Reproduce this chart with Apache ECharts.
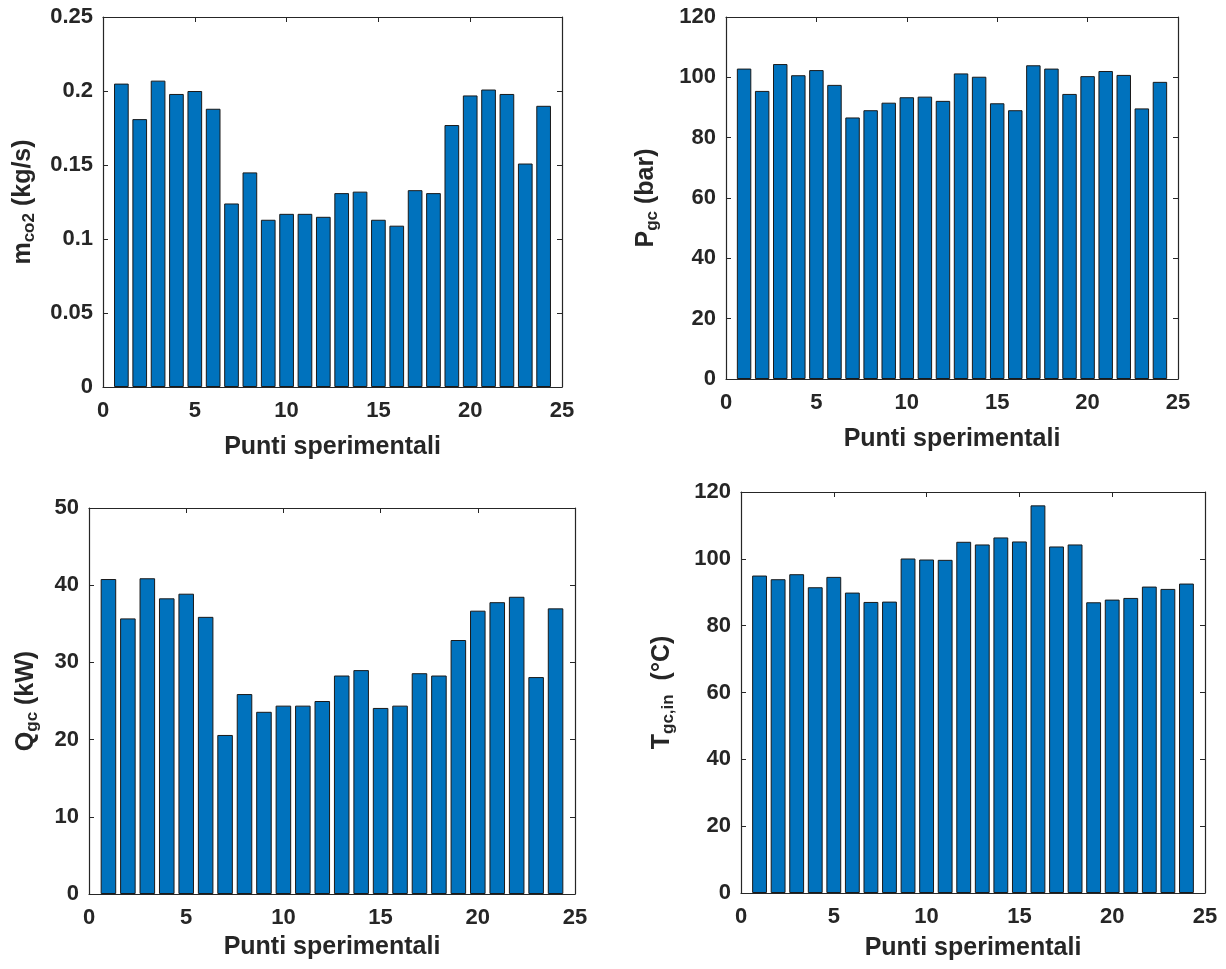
<!DOCTYPE html>
<html><head><meta charset="utf-8">
<script src="https://cdn.jsdelivr.net/npm/echarts@6/dist/echarts.min.js"></script>
<style>html,body{margin:0;padding:0;background:#fff}#c{width:1226px;height:969px}</style>
</head><body><div id="c"></div>
<script>
// Experimental points 1..24
const points = [1,2,3,4,5,6,7,8,9,10,11,12,13,14,15,16,17,18,19,20,21,22,23,24];
// m_co2 (kg/s)
const mco2 = [0.205,0.181,0.207,0.198,0.200,0.188,0.124,0.145,0.113,0.117,0.117,0.115,0.131,0.132,0.113,0.109,0.133,0.131,0.177,0.197,0.201,0.198,0.151,0.190];
// P_gc (bar)
const pgc = [102.9,95.5,104.4,100.7,102.4,97.5,86.7,89.1,91.6,93.4,93.6,92.2,101.3,100.2,91.4,89.1,104.0,102.9,94.5,100.4,102.1,100.8,89.7,98.5];
// Q_gc (kW)
const qgc = [40.8,35.7,40.9,38.3,38.9,35.9,20.6,25.9,23.6,24.4,24.4,25.0,28.3,29.0,24.1,24.4,28.6,28.3,32.9,36.7,37.8,38.5,28.1,37.0];
// T_gc,in (°C)
const tgc = [95.0,93.9,95.4,91.5,94.6,89.9,87.1,87.2,100.1,99.8,99.7,105.1,104.3,106.4,105.2,116.0,103.7,104.3,87.0,87.8,88.3,91.7,91.0,92.6];

const xTitle = 'Punti sperimentali';

const FONT = '"Liberation Sans", Arial, Helvetica, sans-serif';
const TXT = '#262626';
const BAR = '#0072BD';

const panels = [
  {data: mco2, yMax: 0.25, yInt: 0.05, dec: 2, grid: {left: 103, top: 17, width: 459, height: 370},
   yName: '{m|m}{s|co2}{m| (kg/s)}', yGap: 65, xGap: 48},
  {data: pgc, yMax: 120, yInt: 20, dec: 0, grid: {left: 726, top: 17, width: 452, height: 362},
   yName: '{m|P}{s|gc}{m| (bar)}', yGap: 65, xGap: 48},
  {data: qgc, yMax: 50, yInt: 10, dec: 0, grid: {left: 89, top: 508, width: 486, height: 386},
   yName: '{m|Q}{s|gc}{m| (kW)}', yGap: 48, xGap: 41},
  {data: tgc, yMax: 120, yInt: 20, dec: 0, grid: {left: 741, top: 492, width: 464, height: 401},
   yName: '{m|T}{s|gc,in}{m|  (°C)}', yGap: 64, xGap: 43}
];

const rich = {
  m: {fontFamily: FONT, fontWeight: 'bold', fontSize: 25, color: TXT, lineHeight: 27, verticalAlign: 'top'},
  s: {fontFamily: FONT, fontWeight: 'bold', fontSize: 17, color: TXT, lineHeight: 17, padding: [15, 0, 0, 0], verticalAlign: 'bottom'}
};

const axisLine = {show: true, onZero: false, lineStyle: {color: TXT, width: 1.2}};
const tick = {show: true, inside: true, length: 5, lineStyle: {color: TXT, width: 1}};
const label = {fontFamily: FONT, fontWeight: 'bold', fontSize: 22, color: TXT};

const grid = [], xAxis = [], yAxis = [], series = [];
panels.forEach((p, i) => {
  grid.push(Object.assign({containLabel: false}, p.grid));
  xAxis.push({
    type: 'value', gridIndex: i, min: 0, max: 25, interval: 5, position: 'bottom',
    axisLine, axisTick: tick, splitLine: {show: false},
    axisLabel: Object.assign({margin: 13}, label),
    name: xTitle, nameLocation: 'middle', nameGap: p.xGap,
    nameTextStyle: {fontFamily: FONT, fontWeight: 'bold', fontSize: 25, color: TXT}
  });
  xAxis.push({
    type: 'value', gridIndex: i, min: 0, max: 25, interval: 5, position: 'top',
    axisLine, axisTick: tick, splitLine: {show: false}, axisLabel: {show: false}
  });
  yAxis.push({
    type: 'value', gridIndex: i, min: 0, max: p.yMax, interval: p.yInt, position: 'left',
    axisLine, axisTick: tick, splitLine: {show: false},
    axisLabel: Object.assign({margin: 10, formatter: v => String(+v.toFixed(p.dec))}, label),
    name: p.yName, nameLocation: 'middle', nameGap: p.yGap, nameRotate: 90,
    nameTextStyle: {fontFamily: FONT, fontWeight: 'bold', fontSize: 25, color: TXT, rich}
  });
  yAxis.push({
    type: 'value', gridIndex: i, min: 0, max: p.yMax, interval: p.yInt, position: 'right',
    axisLine, axisTick: tick, splitLine: {show: false}, axisLabel: {show: false}
  });
  series.push({
    type: 'bar', xAxisIndex: 2 * i, yAxisIndex: 2 * i,
    data: points.map((x, k) => [x, p.data[k]]),
    barWidth: 0.8 * p.grid.width / 25,
    itemStyle: {color: BAR, borderColor: '#1a1a1a', borderWidth: 1},
    emphasis: {disabled: true}, animation: false
  });
});

const chart = echarts.init(document.getElementById('c'), null, {renderer: 'canvas'});
chart.setOption({backgroundColor: '#fff', animation: false, grid, xAxis, yAxis, series});
</script>
</body></html>
